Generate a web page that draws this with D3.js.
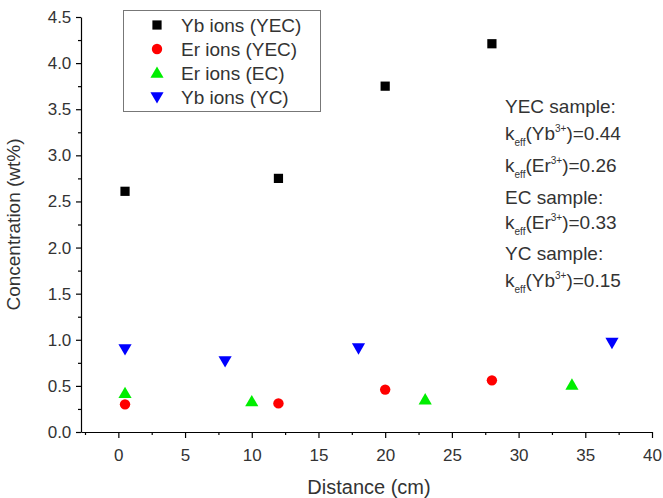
<!DOCTYPE html>
<html><head><meta charset="utf-8">
<script src="https://cdn.jsdelivr.net/npm/d3@7"></script>
<style>body{margin:0;background:#fff}svg{display:block;font-family:"Liberation Sans",Arial,sans-serif}</style>
</head><body>
<svg id="c" width="663" height="498"></svg>
<script>
const ybYEC_x=[0.5,12,20,28], ybYEC_y=[2.61,2.75,3.75,4.21];
const erYEC_x=[0.5,12,20,28], erYEC_y=[0.30,0.31,0.46,0.56];
const erEC_x=[0.5,10,23,34], erEC_y=[0.42,0.33,0.35,0.51];
const ybYC_x=[0.5,8,18,37], ybYC_y=[0.90,0.77,0.91,0.97];
const xTicks=[0,5,10,15,20,25,30,35,40];
const yTicks=[0,0.5,1,1.5,2,2.5,3,3.5,4,4.5];
const seriesNames=["Yb ions (YEC)","Er ions (YEC)","Er ions (EC)","Yb ions (YC)"];
const annot=[
 {t:"YEC sample:"},
 {k:"Yb",v:"0.44"},
 {k:"Er",v:"0.26"},
 {t:"EC sample:"},
 {k:"Er",v:"0.33"},
 {t:"YC sample:"},
 {k:"Yb",v:"0.15"}];

const svg=d3.select("#c");
const x=d3.scaleLinear().domain([-2.8,40]).range([81,652]);
const y=d3.scaleLinear().domain([0,4.5]).range([432,17]);

const tc="#333";
const ff="Liberation Sans, Arial, sans-serif";
// axes
const xa=svg.append("g").attr("transform","translate(0,432)")
 .call(d3.axisBottom(x).tickValues(xTicks).tickSize(6).tickSizeOuter(0).tickFormat(d3.format("d")));
svg.append("g").attr("transform","translate(0,432)")
 .call(d3.axisBottom(x).tickValues(d3.range(-2.5,40,5)).tickSize(3).tickSizeOuter(0).tickFormat(""))
 .select(".domain").remove();
const ya=svg.append("g").attr("transform","translate(81,0)")
 .call(d3.axisLeft(y).tickValues(yTicks).tickSize(5).tickSizeOuter(0).tickFormat(d3.format(".1f")));
svg.append("g").attr("transform","translate(81,0)")
 .call(d3.axisLeft(y).tickValues(d3.range(0.25,4.5,0.5)).tickSize(3).tickSizeOuter(0).tickFormat(""))
 .select(".domain").remove();
svg.selectAll(".tick line, .domain").attr("stroke","#000").attr("stroke-width",1.2);
xa.selectAll("text").attr("font-size",17).attr("fill",tc).attr("dy","1.2em").attr("font-family",ff);
ya.selectAll("text").attr("font-size",17).attr("fill",tc).attr("dx","-0.1em").attr("font-family",ff);

svg.append("text").attr("x",369).attr("y",494).attr("text-anchor","middle")
 .attr("font-size",20).attr("fill",tc).text("Distance (cm)");
svg.append("text").attr("transform","translate(20,"+y(2.25)+") rotate(-90)").attr("text-anchor","middle")
 .attr("font-size",19).attr("fill",tc).text("Concentration (wt%)");

// markers
const sq=d3.symbol().type(d3.symbolSquare).size(85);
const ci=d3.symbol().type(d3.symbolCircle).size(85);
const tri=d3.symbol().type(d3.symbolTriangle).size(75);
function zip(a,b){return a.map((v,i)=>[v,b[i]]);}
const series=[
 {d:zip(ybYEC_x,ybYEC_y),sym:sq,c:"#000",rot:0},
 {d:zip(erYEC_x,erYEC_y),sym:ci,c:"#ff0000",rot:0},
 {d:zip(erEC_x,erEC_y),sym:tri,c:"#00ee00",rot:0},
 {d:zip(ybYC_x,ybYC_y),sym:tri,c:"#0000ff",rot:180}];
series.forEach(s=>{
 svg.append("g").selectAll("path").data(s.d).join("path")
  .attr("d",s.sym()).attr("fill",s.c)
  .attr("transform",d=>`translate(${x(d[0])},${y(d[1])+(s.sym===tri?(s.rot?-1:1):0)}) rotate(${s.rot})`);
});

// legend
svg.append("rect").attr("x",123.5).attr("y",10.5).attr("width",197).attr("height",101)
 .attr("fill","#fff").attr("stroke","#777").attr("stroke-width",1);
seriesNames.forEach((n,i)=>{
 const yy=25+i*24;
 const s=series[i];
 svg.append("path").attr("d",s.sym()).attr("fill",s.c)
  .attr("transform",`translate(157,${yy+(s.sym===tri?(s.rot?-1:1):0)}) rotate(${s.rot})`);
 svg.append("text").attr("x",181).attr("y",yy+7).attr("font-size",19).attr("fill",tc).text(n);
});

// annotation
const ay=[113,140,172,204,229,260,287];
annot.forEach((a,i)=>{
 const t=svg.append("text").attr("x",505).attr("y",ay[i]).attr("font-size",19).attr("fill",tc);
 if(a.t){t.text(a.t);}
 else{
  t.append("tspan").text("k");
  t.append("tspan").attr("font-size",10).attr("dy",6).text("eff");
  t.append("tspan").attr("dy",-6).text("("+a.k);
  t.append("tspan").attr("font-size",10).attr("dy",-8).text("3+");
  t.append("tspan").attr("dy",8).text(")="+a.v);
 }
});
</script>
</body></html>
